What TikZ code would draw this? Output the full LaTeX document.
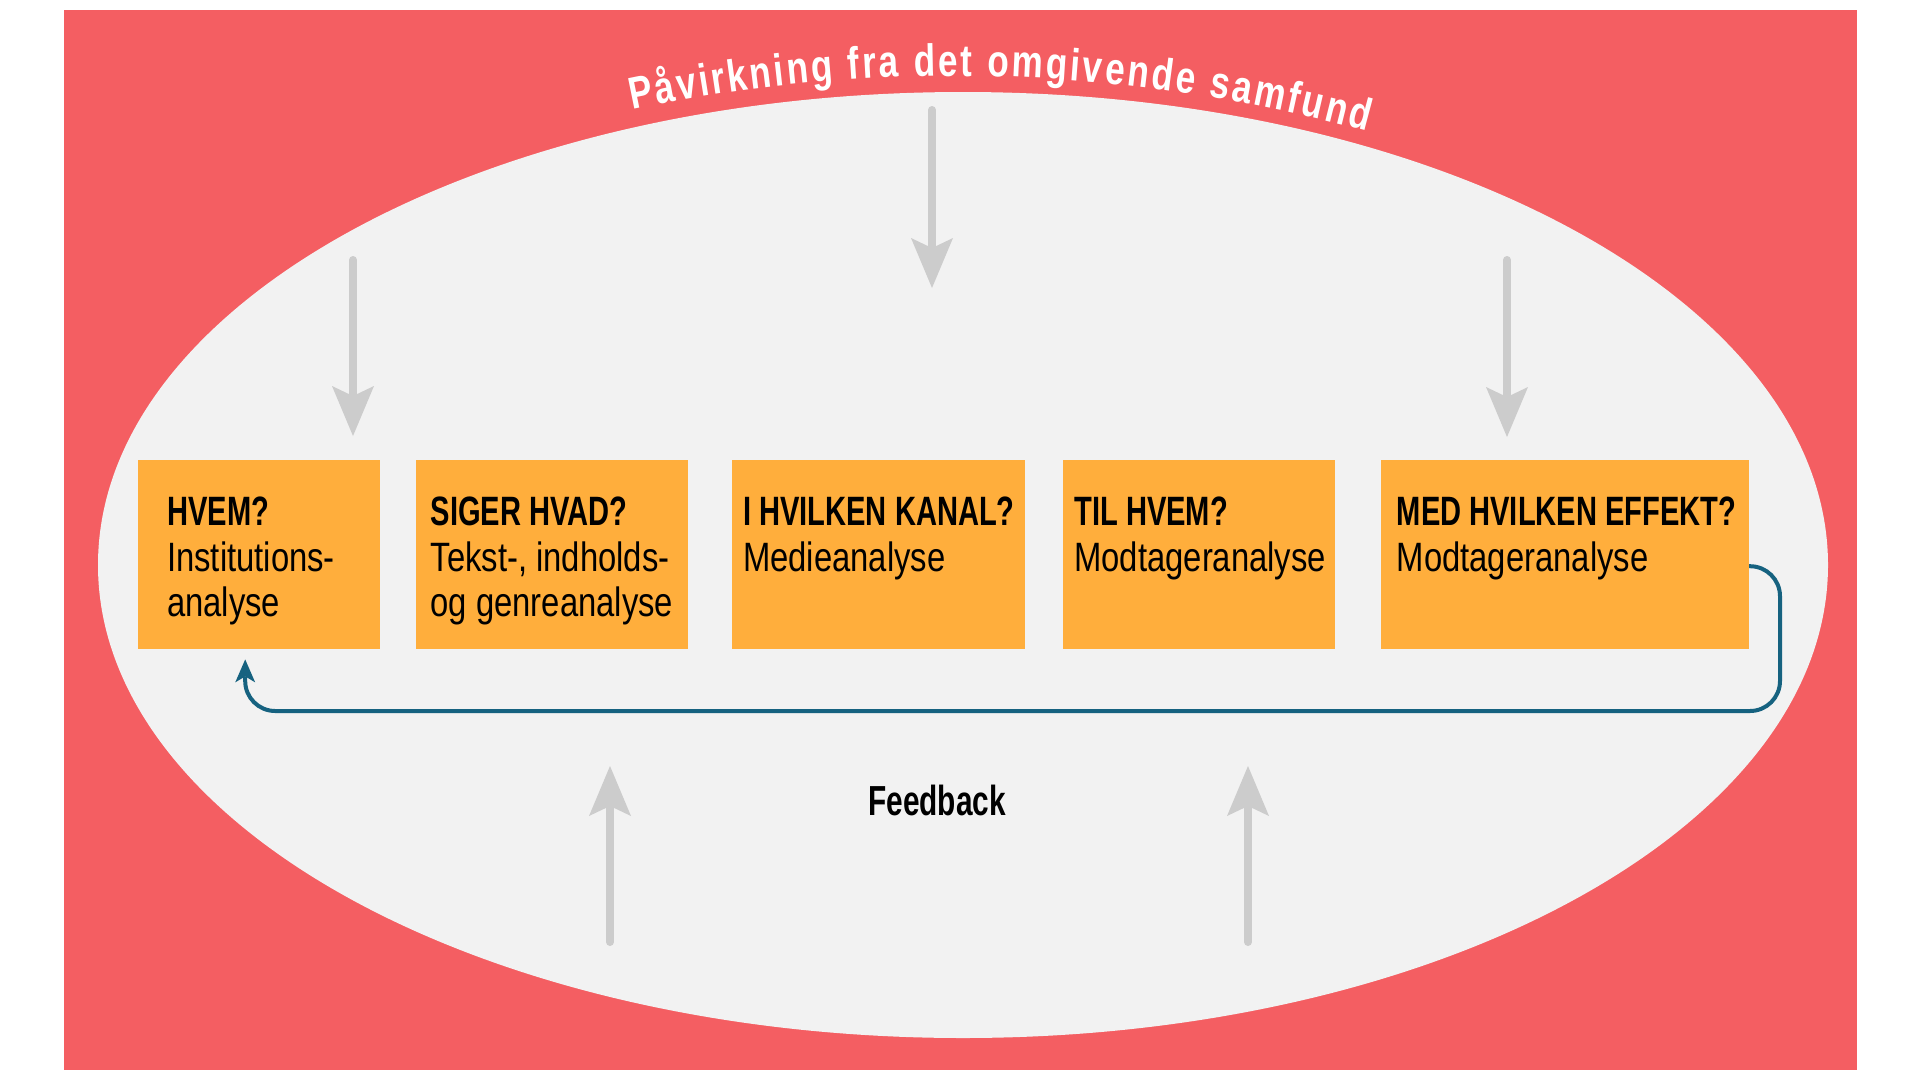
\documentclass[tikz,border=0pt]{standalone}
\usepackage{fontspec}
\setmainfont[FakeStretch=0.8]{Liberation Sans}
\newfontfamily\headfont[FakeStretch=0.71]{Liberation Sans}
\newfontfamily\arcfont[FakeStretch=0.78]{Liberation Sans}
\usetikzlibrary{positioning, arrows.meta, decorations.text}
\definecolor{bgred}{RGB}{244,94,98}
\definecolor{ovalgray}{RGB}{242,242,242}
\definecolor{boxorange}{RGB}{255,174,60}
\definecolor{arrowgray}{RGB}{204,204,204}
\definecolor{fbblue}{RGB}{22,98,128}
\newcommand\qhead[1]{{\headfont\bfseries #1}}

\begin{document}
\begin{tikzpicture}[x=1pt, y=-1pt, bx/.style={fill=boxorange, minimum height=189pt, inner sep=0pt}, tx/.style={inner sep=0pt, align=left, font=\fontsize{41}{45.5}\selectfont}, ga/.style={draw=arrowgray, line width=8pt, line cap=round, -{Stealth[length=50pt, width=42pt, inset=10pt, line width=0pt]}}, fb/.style={draw=fbblue, line width=4pt, rounded corners=30pt, -{Stealth[length=23pt, width=20pt, inset=6pt, line width=0pt]}}]
		\useasboundingbox (0,0) rectangle (1920,1080);
		\fill[bgred] (64,10) rectangle (1857,1070);
		\fill[ovalgray] (963,565) ellipse [x radius=865pt, y radius=473pt];
		\path[decorate, decoration={text along path, text color=white, text align={fit to path}, text={|\arcfont\bfseries\fontsize{45}{45}\selectfont|Påvirkning fra det omgivende samfund}}] (632,109.8) arc[start angle=101.95, end angle=74.7, radius=1560pt];

		\node[bx, minimum width=242pt, anchor=north west] (b1) at (138,460) {};
		\node[bx, minimum width=272pt, right=35pt of b1] (b2) {};
		\node[bx, minimum width=293pt, right=44pt of b2] (b3) {};
		\node[bx, minimum width=272pt, right=38pt of b3] (b4) {};
		\node[bx, minimum width=368pt, right=45pt of b4] (b5) {};

		\node[tx, below right=37pt and 29pt of b1.north west] (b1_text) {\qhead{HVEM?}\\Institutions-\\analyse};
		\node[tx, below right=37pt and 15pt of b2.north west] (b2_text) {\qhead{SIGER HVAD?}\\Tekst-, indholds-\\og genreanalyse};
		\node[tx, below right=37pt and 11pt of b3.north west] (b3_text) {\qhead{I HVILKEN KANAL?}\\Medieanalyse};
		\node[tx, below right=37pt and 11pt of b4.north west] (b4_text) {\qhead{TIL HVEM?}\\Modtageranalyse};
		\node[tx, below right=37pt and 16pt of b5.north west] (b5_text) {\qhead{MED HVILKEN EFFEKT?}\\Modtageranalyse};
		\node[inner sep=0pt, anchor=base, font=\fontsize{42}{42}\selectfont] (fb_label) at (937,815) {\qhead{Feedback}};

		\coordinate (d1s) at (353,260);
		\coordinate (d1e) at (353,436);
		\coordinate (d2s) at (932,110);
		\coordinate (d2e) at (932,288);
		\coordinate (d3s) at (1507,260);
		\coordinate (d3e) at (1507,437);
		\coordinate (u1s) at (610,942);
		\coordinate (u1e) at (610,766);
		\coordinate (u2s) at (1248,942);
		\coordinate (u2e) at (1248,766);
		\coordinate (fbc) at (1780,711);

		\draw[ga] (d1s) -- (d1e);
		\draw[ga] (d2s) -- (d2e);
		\draw[ga] (d3s) -- (d3e);
		\draw[ga] (u1s) -- (u1e);
		\draw[ga] (u2s) -- (u2e);
		\draw[fb] ([yshift=-11.5pt]b5.east) -| (fbc) -| ([xshift=-14pt, yshift=-10pt]b1.south);
	\end{tikzpicture}
\end{document}
